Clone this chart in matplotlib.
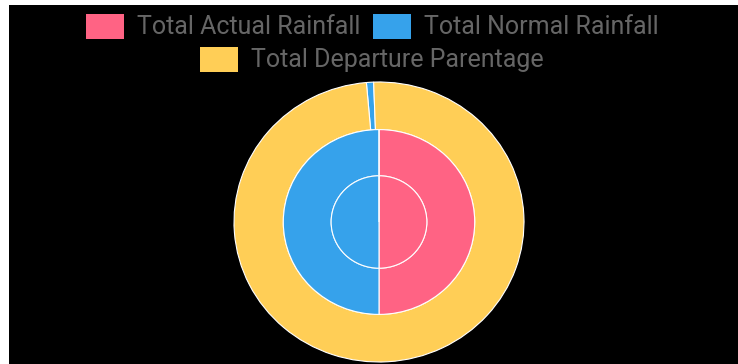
import matplotlib
matplotlib.use('Agg')
import matplotlib.pyplot as plt
from matplotlib.patches import Rectangle

W, H = 738, 364

# rótulos e cores das fatias
labels = ['Total Actual Rainfall', 'Total Normal Rainfall', 'Total Departure Parentage']
cores = ['#FF6384', '#36A2EB', '#FFCE56']

# três anéis (de fora para dentro), em %
anel_externo = [0.0, 0.8, 99.2]
anel_meio = [50.0, 50.0, 0.0]
anel_interno = [50.0, 50.0, 0.0]

fig = plt.figure(figsize=(W / 100, H / 100), dpi=100, facecolor='white')
# fundo preto (moldura branca fina à esquerda e em cima)
fig.patches.append(Rectangle((9 / W, 0), 1 - 9 / W, 1 - 5 / H, transform=fig.transFigure,
                             facecolor='black', edgecolor='none', zorder=-5))

cx, cy, rx, ry = 379, 222, 145, 140
ax = fig.add_axes([(cx - rx) / W, (H - cy - ry) / H, 2 * rx / W, 2 * ry / H])
ax.set_facecolor('none')
ax.set_zorder(2)

borda = dict(edgecolor='white', linewidth=0.8)
ax.pie(anel_externo, radius=1.0, colors=cores, startangle=95, counterclock=False,
       wedgeprops=dict(width=0.34, **borda))
ax.pie(anel_meio, radius=0.66, colors=cores, startangle=90, counterclock=False,
       wedgeprops=dict(width=0.33, **borda))
ax.pie(anel_interno, radius=0.33, colors=cores, startangle=90, counterclock=False,
       wedgeprops=borda)
ax.set_aspect('auto')
ax.set_xlim(-1.0, 1.0)
ax.set_ylim(-1.0, 1.0)
ax.axis('off')

# legenda em duas linhas, centralizada
pos_legenda = [(86, 14), (373, 14), (200, 47)]
for (x0, y0), lab, cor in zip(pos_legenda, labels, cores):
    fig.patches.append(Rectangle((x0 / W, 1 - (y0 + 25) / H), 38 / W, 25 / H,
                                 transform=fig.transFigure, facecolor=cor,
                                 edgecolor='none', zorder=2))
    fig.text((x0 + 51) / W, 1 - (y0 + 12.5) / H, lab, color='#666666',
             fontsize=18, family='Roboto', va='center', ha='left')

fig.savefig('out.png', dpi=100, facecolor=fig.get_facecolor())
